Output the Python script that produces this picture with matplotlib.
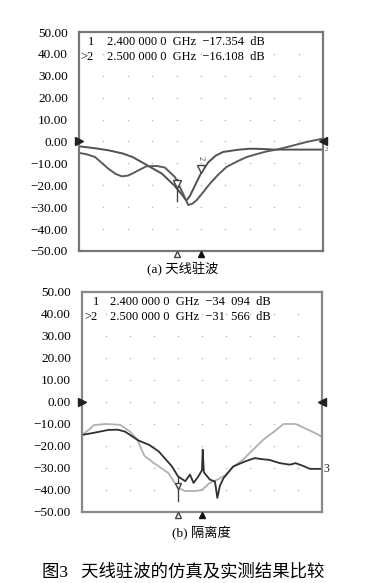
import matplotlib as mpl
mpl.use('Agg')
import matplotlib.pyplot as plt
import numpy as np

plt.rcParams['font.family'] = ['Liberation Serif', 'Noto Sans CJK SC']

# ---- (a) antenna VSWR / return loss, GHz vs dB ----
a1_f = [2.00, 2.06, 2.12, 2.18, 2.22, 2.28, 2.34, 2.39, 2.42, 2.44, 2.455, 2.48,
        2.50, 2.53, 2.56, 2.59, 2.65, 2.70, 2.75, 2.80, 2.90, 3.00]
a1_db = [-2.2, -3.0, -4.0, -5.5, -7.1, -10.9, -14.7, -20.0, -24.0, -27.0, -24.8, -19.0,
         -14.5, -9.5, -6.5, -4.8, -3.8, -3.3, -3.4, -3.7, -3.7, -3.7]
a2_f = [2.00, 2.03, 2.066, 2.12, 2.15, 2.175, 2.20, 2.223, 2.25, 2.277, 2.32, 2.352,
        2.393, 2.42, 2.448, 2.465, 2.482, 2.51, 2.537, 2.57, 2.605, 2.65, 2.687, 2.73,
        2.77, 2.81, 2.865, 2.933, 3.00]
a2_db = [-5.2, -5.8, -7.1, -12.4, -14.8, -15.9, -15.6, -14.4, -12.8, -11.3, -11.2, -11.9,
         -16.2, -22.3, -29.0, -28.4, -26.8, -23.0, -19.2, -15.2, -11.6, -9.0, -7.1, -5.7,
         -4.5, -3.7, -2.2, -0.2, 1.3]
a_read_id = ['1', '>2']
a_read = ['2.400 000 0  GHz  \u221217.354  dB',
          '2.500 000 0  GHz  \u221216.108  dB']

# ---- (b) isolation ----
b_light_f = [2.00, 2.03, 2.05, 2.10, 2.16, 2.20, 2.23, 2.26, 2.30, 2.36, 2.40, 2.43,
             2.47, 2.50, 2.53, 2.57, 2.60, 2.63, 2.67, 2.71, 2.755, 2.80, 2.84, 2.89,
             2.94, 3.00]
b_light_db = [-15.0, -12.5, -10.5, -10.0, -10.4, -13.5, -17.0, -24.5, -27.8, -32.3, -39.0,
              -40.5, -40.5, -40.0, -37.0, -35.0, -33.0, -29.5, -26.3, -22.0, -17.2, -13.5,
              -10.0, -10.0, -12.5, -15.7]
b_dark_f = [2.00, 2.05, 2.11, 2.15, 2.18, 2.235, 2.28, 2.32, 2.375, 2.40, 2.43, 2.45,
            2.465, 2.485, 2.50, 2.503, 2.508, 2.533, 2.554, 2.564, 2.575, 2.59, 2.63,
            2.68, 2.72, 2.75, 2.78, 2.825, 2.867, 2.89, 2.92, 2.95, 3.00]
b_dark_db = [-15.0, -14.0, -12.7, -12.6, -13.5, -17.5, -19.5, -22.5, -29.3, -33.8, -36.0,
             -33.0, -36.8, -33.8, -31.0, -21.7, -32.0, -35.3, -36.1, -43.6, -38.0, -34.6,
             -29.3, -27.0, -25.5, -26.0, -26.3, -27.8, -28.5, -27.8, -29.0, -30.4, -30.4]
b_read_id = ['1', '>2']
b_read = ['2.400 000 0  GHz  \u221234  094  dB',
          '2.500 000 0  GHz  \u221231  566  dB']

y_ticks = list(range(-50, 51, 10))
x_grid = [2.0 + 0.1 * i for i in range(11)]
mark_f = [2.4, 2.5]


def setup(ax, ids, readout, edge, id_x, txt_x):
    ax.set_xlim(2.0, 3.0)
    ax.set_ylim(-50, 50)
    ax.set_yticks(y_ticks)
    ax.set_yticklabels([f'{v:.2f}'.replace('-', '\u2212') for v in y_ticks], fontsize=9.5)
    ax.set_xticks([])
    ax.tick_params(axis='y', length=0, pad=8)
    for s in ax.spines.values():
        s.set_color(edge)
        s.set_linewidth(1.6)
    gx, gy = np.meshgrid(x_grid[1:-1], y_ticks[1:-1])
    ax.scatter(gx.ravel(), gy.ravel(), s=1.5, color='#c0c0c0', zorder=1, lw=0)
    for k, (i, t) in enumerate(zip(ids, readout)):
        y = 0.955 - k * 0.068
        ax.text(id_x[k], y, i, transform=ax.transAxes, fontsize=9, va='center')
        ax.text(txt_x, y, t, transform=ax.transAxes, fontsize=9, va='center')
    # reference level arrows and frequency markers outside the box
    ax.plot([2.0], [0], marker='>', color='#222', ms=6, clip_on=False, zorder=5)
    ax.plot([3.0], [0], marker='<', color='#222', ms=6, clip_on=False, zorder=5)
    ax.plot([mark_f[0]], [-51.5], marker='^', mfc='white', mec='#444', ms=5,
            clip_on=False, zorder=5)
    ax.plot([mark_f[1]], [-51.5], marker='^', color='#111', ms=5, clip_on=False, zorder=5)


fig = plt.figure(figsize=(3.66, 5.83), dpi=100)
ax1 = fig.add_axes([0.2158, 0.5695, 0.6667, 0.3756])
ax2 = fig.add_axes([0.224, 0.1218, 0.6557, 0.3774])

setup(ax1, a_read_id, a_read, '#777', [0.035, 0.005], 0.115)
ax1.plot(a1_f, a1_db, color='#505050', lw=1.4)
ax1.plot(a2_f, a2_db, color='#5a5a5a', lw=1.4)
# markers on the traces
ax1.plot([2.4, 2.4], [-17, -27], color='#444', lw=1)
ax1.plot([2.4], [-19.5], marker='v', mfc='white', mec='#444', ms=6)
ax1.plot([2.5], [-12.5], marker='v', mfc='white', mec='#444', ms=6)
ax1.text(2.5, -7.5, '2', fontsize=6, ha='center', va='center', rotation=-90, color='#444')
ax1.text(3.005, -3.7, '2', fontsize=5, ha='left', va='center', color='#444', clip_on=False)

setup(ax2, b_read_id, b_read, '#888', [0.045, 0.012], 0.117)
ax2.plot(b_light_f, b_light_db, color='#b0b0b0', lw=1.3)
ax2.plot(b_dark_f, b_dark_db, color='#303030', lw=1.3)
ax2.plot([2.4, 2.4], [-34, -45], color='#444', lw=1)
ax2.plot([2.4], [-38], marker='v', mfc='white', mec='#444', ms=4)
ax2.text(3.005, -30.4, '3', fontsize=8.5, ha='left', va='center', color='#222', clip_on=False)

fig.text(0.5, 1 - 269 / 583, '(a) 天线驻波', ha='center', va='center', fontsize=9.5)
fig.text(0.55, 1 - 533 / 583, '(b) 隔离度', ha='center', va='center', fontsize=9.5)
fig.text(0.5, 1 - 572 / 583, '图3   天线驻波的仿真及实测结果比较', ha='center', va='center',
         fontsize=12.5)

fig.savefig('out.png', dpi=100)
